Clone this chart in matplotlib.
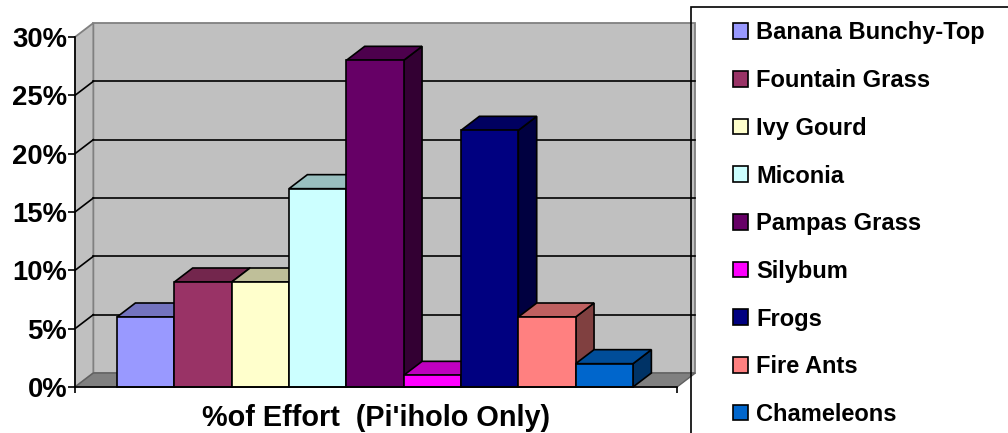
import matplotlib
matplotlib.use("Agg")
import matplotlib.pyplot as plt
from matplotlib.patches import Polygon, Rectangle, Patch
from matplotlib.colors import to_rgb

# data
names = ["Banana Bunchy-Top", "Fountain Grass", "Ivy Gourd", "Miconia",
         "Pampas Grass", "Silybum", "Frogs", "Fire Ants", "Chameleons"]
effort = [6, 9, 9, 17, 28, 1, 22, 6, 2]
colors = ["#9999FF", "#993366", "#FFFFCC", "#CCFFFF", "#660066",
          "#FF00FF", "#000080", "#FF8080", "#0066CC"]
yticks = [0, 5, 10, 15, 20, 25, 30]
ytick_labels = ["0%", "5%", "10%", "15%", "20%", "25%", "30%"]
xlabel = "%of Effort  (Pi'iholo Only)"

plt.rcParams["font.family"] = ["Liberation Sans", "DejaVu Sans"]
plt.rcParams["font.weight"] = "bold"

fig = plt.figure(figsize=(10.08, 4.33), dpi=100)
ax = fig.add_axes([75/1008, 46/433, 602/1008, 350/433])
ax.set_facecolor("none")

xmin, xmax = -0.733, 9.767
ymax = 30
ax.set_xlim(xmin, xmax)
ax.set_ylim(0, ymax)

# depth of the fake 3d box, in data units
dx, dy = 0.32, 1.2

def shade(c, f):
    r, g, b = to_rgb(c)
    return (r*f, g*f, b*f)

# walls and floor
wall = "#C0C0C0"
ax.add_patch(Polygon([(xmin+dx, dy), (xmax+dx, dy), (xmax+dx, ymax+dy), (xmin+dx, ymax+dy)],
                     closed=True, fc=wall, ec="#808080", lw=1.3, clip_on=False, zorder=0.5))
ax.add_patch(Polygon([(xmin, 0), (xmin+dx, dy), (xmin+dx, ymax+dy), (xmin, ymax)],
                     closed=True, fc=wall, ec="#808080", lw=1.3, clip_on=False, zorder=0.5))
ax.add_patch(Polygon([(xmin, 0), (xmax, 0), (xmax+dx, dy), (xmin+dx, dy)],
                     closed=True, fc="#808080", ec="#606060", lw=1.0, clip_on=False, zorder=0.6))

for v in yticks[1:-1]:
    ax.plot([xmin+dx, xmax+dx], [v+dy, v+dy], color="black", lw=1.2, clip_on=False, zorder=0.7)
    ax.plot([xmin, xmin+dx], [v, v+dy], color="black", lw=1.2, clip_on=False, zorder=0.7)

# bars, left to right so later fronts hide earlier sides
for i, (v, c) in enumerate(zip(effort, colors)):
    z = 2 + i
    side = [(i+1, 0), (i+1+dx, dy), (i+1+dx, v+dy), (i+1, v)]
    top = [(i, v), (i+1, v), (i+1+dx, v+dy), (i+dx, v+dy)]
    ax.add_patch(Polygon(side, closed=True, fc=shade(c, 0.5), ec="black", lw=1.2,
                         clip_on=False, zorder=z))
    ax.add_patch(Polygon(top, closed=True, fc=shade(c, 0.75), ec="black", lw=1.2,
                         clip_on=False, zorder=z))
    ax.add_patch(Rectangle((i, 0), 1, v, fc=c, ec="black", lw=1.2, clip_on=False, zorder=z))

for s in ["top", "right"]:
    ax.spines[s].set_visible(False)
for s in ["left", "bottom"]:
    ax.spines[s].set_linewidth(1.2)
    ax.spines[s].set_zorder(20)

ax.set_yticks(yticks)
ax.set_yticklabels(ytick_labels, fontsize=19.8, fontweight="bold")
ax.set_xticks([xmin, xmax])
ax.set_xticklabels([])
ax.tick_params(axis="y", length=5, width=1.2, pad=0.5)
ax.tick_params(axis="x", length=4.5, width=1.2)

fig.text(376/1008, 1 - 418/433, xlabel, ha="center", va="center",
         fontsize=20.8, fontweight="bold")

# legend
handles = [Patch(fc=c, ec="black", lw=1.2) for c in colors]
fig.legend(handles, names, loc="upper left", bbox_to_anchor=(733/1008, 1 - 21.5/433),
           frameon=False, borderpad=0, borderaxespad=0, handlelength=0.65,
           handleheight=0.65, handletextpad=0.34, labelspacing=1.045,
           prop={"size": 17, "weight": "bold"})
fig.add_artist(Rectangle((691/1008, -0.1), 0.5, 1.1 - 7/433, transform=fig.transFigure,
                         fill=False, ec="black", lw=1.2, clip_on=False))

fig.savefig("out.png", dpi=100)
